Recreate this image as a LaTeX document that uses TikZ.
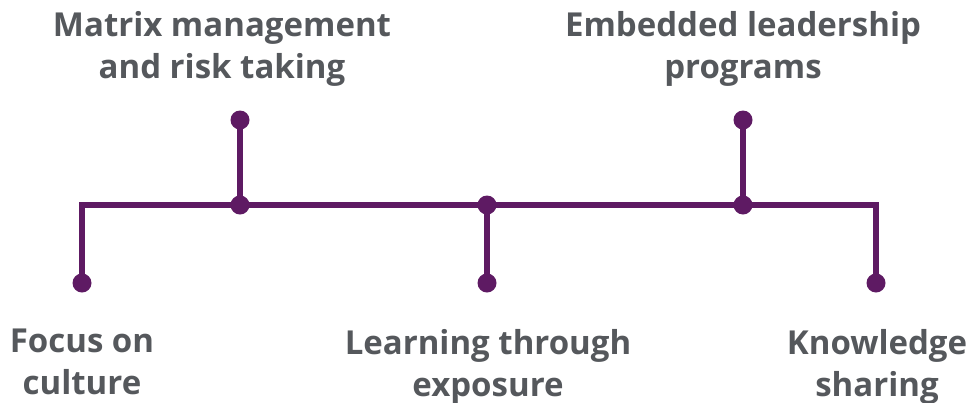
\documentclass[tikz,border=0pt]{standalone}
\usepackage{fontspec}
\setmainfont{Open Sans}
\usepackage{tikz}
\usetikzlibrary{positioning}
\definecolor{plum}{HTML}{5E1A63}
\definecolor{ink}{HTML}{55585C}
\tikzset{
  stem/.style={draw=plum, line width=6pt, line join=miter},
  dot/.style={circle, fill=plum, inner sep=0pt, minimum size=19pt},
  lab/.style={text=ink, font=\fontsize{33}{42}\selectfont\bfseries, align=center, inner sep=0pt},
}
\begin{document}
\begin{tikzpicture}[x=1pt,y=-1pt]
  \useasboundingbox (0,0) rectangle (973,402);
  % spine and branch points
  \coordinate (L) at (82,205);
  \coordinate (R) at (876,205);
  \coordinate (j1) at (240,205);
  \coordinate (j2) at (487,205);
  \coordinate (j3) at (743,205);
  \coordinate (t1) at (240,120);
  \coordinate (t2) at (743,120);
  \coordinate (b1) at (82,283);
  \coordinate (b2) at (487,283);
  \coordinate (b3) at (876,283);
  \draw[stem] (b1) -- (L) -- (R) -- (b3);
  \draw[stem] (j1) -- (t1);
  \draw[stem] (j3) -- (t2);
  \draw[stem] (j2) -- (b2);
  \foreach \p in {j1,j2,j3,t1,t2,b1,b2,b3}
    \node[dot] (dot-\p) at (\p) {};
  % labels
  \node[lab, anchor=north] (matrix) at (222,11) {Matrix management\\and risk taking};
  \node[lab, anchor=north] (embedded) at (743,11) {Embedded leadership\\programs};
  \node[lab, anchor=north] (focus) at (82,329) {Focus on\\culture};
  \node[lab, anchor=north] (learning) at (488,329) {Learning through\\exposure};
  \node[lab, anchor=north] (knowledge) at (877,329) {Knowledge\\sharing};
\end{tikzpicture}
\end{document}
